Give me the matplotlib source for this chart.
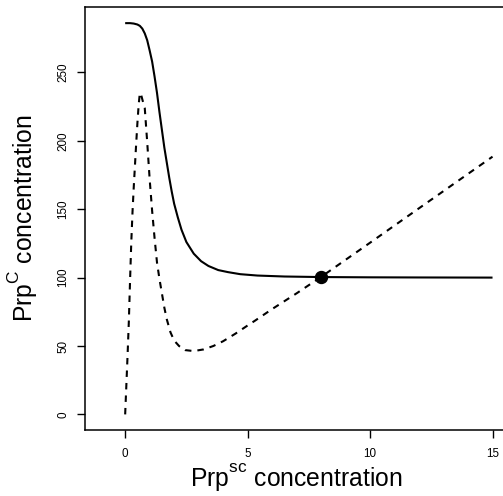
import matplotlib
matplotlib.use('Agg')
import matplotlib.pyplot as plt

try:
    import matplotlib._mathtext as _mt
    _mt.FontConstantsBase.sup1 = 0.95
except Exception:
    pass

# PrpC curve (solid)
prpsc_solid = [0, 0.2, 0.35, 0.5, 0.6, 0.7, 0.8, 0.9, 1.0, 1.1, 1.2, 1.3, 1.4, 1.5, 1.6, 1.7, 1.8,
               1.9, 2.0, 2.15, 2.3, 2.5, 2.8, 3.1, 3.4, 3.8, 4.2, 4.7, 5.4, 6.5, 8.0, 10.0, 12.0, 15.0]
prpc_solid = [286, 286, 285.7, 285, 284, 282, 278.5, 273.5, 266, 258, 247, 235, 221, 208, 195, 184, 173,
              163, 154, 144, 135, 126, 117.5, 112, 108.5, 105.5, 104, 102.5, 101.5, 100.8, 100.4, 100.2, 100.1, 100]

# second curve (dashed)
prpsc_dashed = [0, 0.05, 0.1, 0.15, 0.2, 0.25, 0.3, 0.35, 0.4, 0.45, 0.5, 0.55, 0.6, 0.66, 0.72,
                0.8, 0.9, 1.0, 1.1, 1.2, 1.3, 1.4, 1.5, 1.6, 1.7, 1.85, 2.0, 2.2, 2.45, 2.8,
                3.2, 3.6, 4.0, 4.5, 5.0, 5.3, 6.0, 7.0, 8.0, 10.0, 12.0, 15.0]
prpc_dashed = [0, 22, 44, 68, 98, 126, 148, 166, 182, 198, 213, 226, 235, 233, 229,
               224, 199, 172, 149, 129, 111, 99, 88.5, 78, 69.5, 60, 54, 50, 47, 46.3,
               47.5, 50, 53.5, 59, 65, 68.5, 77, 88.5, 100.5, 125.5, 150.7, 188.4]

# equilibrium point
eq_prpsc = [8.0]
eq_prpc = [100.4]

xticks = [0, 5, 10, 15]
yticks = [0, 50, 100, 150, 200, 250]

plt.rcParams['font.family'] = ['Liberation Sans', 'DejaVu Sans']
plt.rcParams['mathtext.fontset'] = 'custom'
plt.rcParams['mathtext.rm'] = 'Liberation Sans'
plt.rcParams['mathtext.it'] = 'Liberation Sans:italic'
plt.rcParams['mathtext.bf'] = 'Liberation Sans:bold'

W, H = 503, 496
fig = plt.figure(figsize=(W / 100, H / 100), dpi=100)
ax = fig.add_axes([85 / W, (H - 430) / H, 423.2 / W, 423 / H])

ax.plot(prpsc_solid, prpc_solid, color='black', lw=1.5, solid_capstyle='butt', solid_joinstyle='round')
ax.plot(prpsc_dashed, prpc_dashed, color='black', lw=1.5, dashes=(3.1, 2.9))
ax.plot(eq_prpsc, eq_prpc, 'o', color='black', markersize=8.6)

ax.set_xlim(-1.64, 15.64)
ax.set_ylim(-11.4, 297.8)

ax.set_xticks(xticks)
ax.set_xticklabels([str(t) for t in xticks], fontsize=8.4)
ax.set_yticks(yticks)
ax.set_yticklabels([str(t) for t in yticks], fontsize=8.4, rotation=90, va='center')
ax.tick_params(axis='x', direction='out', length=5.5, width=1.0, pad=7.5, colors='black')
ax.tick_params(axis='y', direction='out', length=5.5, width=1.0, pad=5.9, colors='black')

for s in ax.spines.values():
    s.set_linewidth(1.1)
    s.set_color('black')

ax.set_xlabel(r'Prp$^{\mathrm{sc}}$ concentration', fontsize=17.8)
ax.set_ylabel(r'Prp$^{\mathrm{C}}$ concentration', fontsize=17.8)
ax.xaxis.set_label_coords(0.5, -0.0757)
ax.xaxis.label.set_va('top')
ax.yaxis.set_label_coords(-0.1052, 0.5)

fig.savefig('out.png', dpi=100)
